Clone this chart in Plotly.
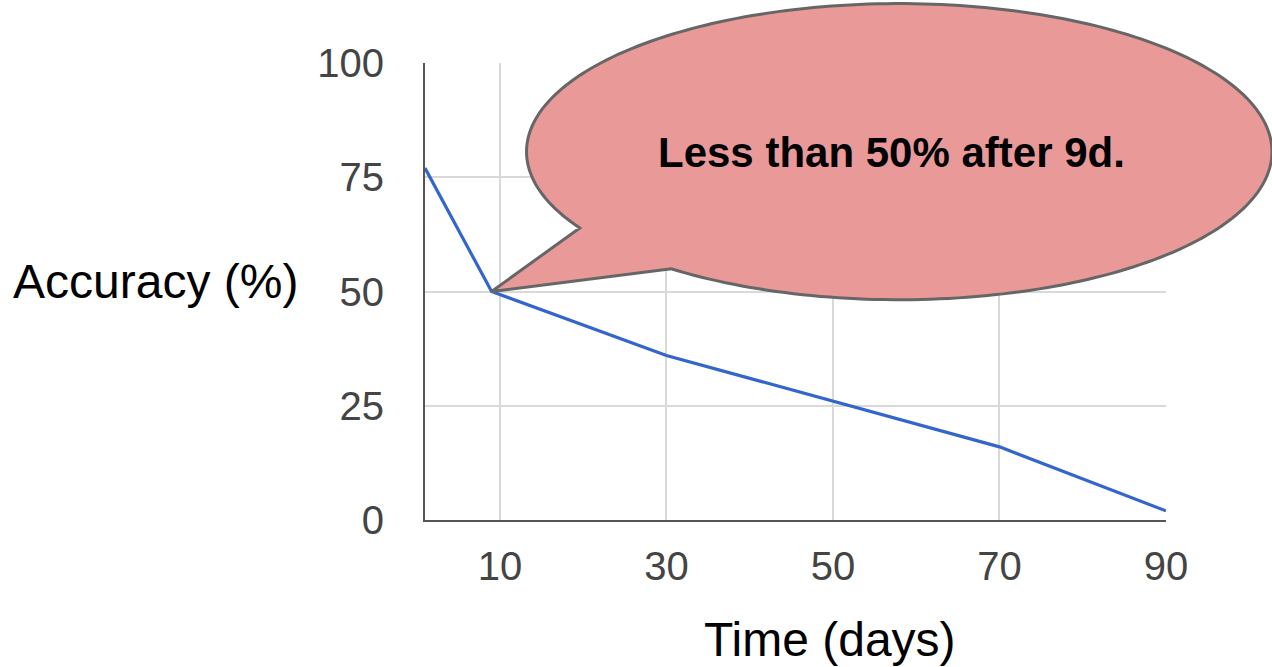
import numpy as np
import plotly.graph_objects as go

# Accuracy over time
days = [1, 9, 30, 50, 70, 90]
accuracy = [77, 50, 36, 26, 16, 2]

x_ticks = [10, 30, 50, 70, 90]
y_ticks = [0, 25, 50, 75, 100]
x_range = [1, 90]
y_range = [0, 100]

callout_text = "Less than 50% after 9d."
callout_day = 9
callout_value = 50

FONT = "Liberation Sans, Arial, sans-serif"

fig = go.Figure()
fig.add_trace(go.Scatter(
    x=days, y=accuracy, mode="lines",
    line=dict(color="#3366cc", width=3.2),
    showlegend=False, hoverinfo="skip",
))


def to_paper(xv, yv):
    return ((xv - x_range[0]) / (x_range[1] - x_range[0]),
            (yv - y_range[0]) / (y_range[1] - y_range[0]))


# speech bubble: ellipse with a tail pointing at the callout point
cx, cy, rx, ry = 0.640, 0.806, 0.503, 0.324
t_notch = np.radians(149.0)
t_bottom = np.radians(127.7)
tip_x, tip_y = to_paper(callout_day, callout_value)

def ell(t):
    return cx + rx * np.cos(t), cy - ry * np.sin(t)

pts = [ell(t_notch), (tip_x, tip_y)]
for t in np.linspace(t_bottom, t_notch - 2 * np.pi, 240):
    pts.append(ell(t))
path = "M " + " L ".join(f"{px:.5f},{py:.5f}" for px, py in pts) + " Z"

fig.add_shape(
    type="path", path=path, xref="paper", yref="paper",
    fillcolor="#ea9999", line=dict(color="#666666", width=3), layer="above",
)

fig.add_annotation(
    text=f"<b>{callout_text}</b>", xref="paper", yref="paper",
    x=0.629, y=0.805, xanchor="center", yanchor="middle", showarrow=False,
    font=dict(family=FONT, size=42, color="#000000"),
)

# axis titles
fig.add_annotation(
    text="Accuracy (%)", xref="paper", yref="paper",
    x=-0.364, y=0.522, xanchor="center", yanchor="middle", showarrow=False,
    font=dict(family=FONT, size=48, color="#000000"),
)
fig.add_annotation(
    text="Time (days)", xref="paper", yref="paper",
    x=0.5466, y=-0.262, xanchor="center", yanchor="middle", showarrow=False,
    font=dict(family=FONT, size=48, color="#000000"),
)

fig.update_layout(
    width=1272, height=667,
    margin=dict(l=425, r=106, t=63, b=147),
    paper_bgcolor="white", plot_bgcolor="white",
    font=dict(family=FONT, color="#444444"),
)
fig.update_xaxes(
    range=x_range, tickvals=x_ticks, ticktext=[str(v) for v in x_ticks],
    showgrid=True, gridcolor="#d9d9d9", gridwidth=2,
    showline=True, linecolor="#555555", linewidth=2, mirror=False,
    zeroline=False, ticks="", tickfont=dict(size=40, color="#444444"),
    ticklabelstandoff=10,
)
fig.update_yaxes(
    range=y_range, tickvals=y_ticks, ticktext=[str(v) for v in y_ticks],
    showgrid=True, gridcolor="#d9d9d9", gridwidth=2,
    showline=True, linecolor="#555555", linewidth=2,
    zeroline=False, ticks="", tickfont=dict(size=40, color="#444444"),
    ticklabelstandoff=31,
)

fig.write_html("out.html")
